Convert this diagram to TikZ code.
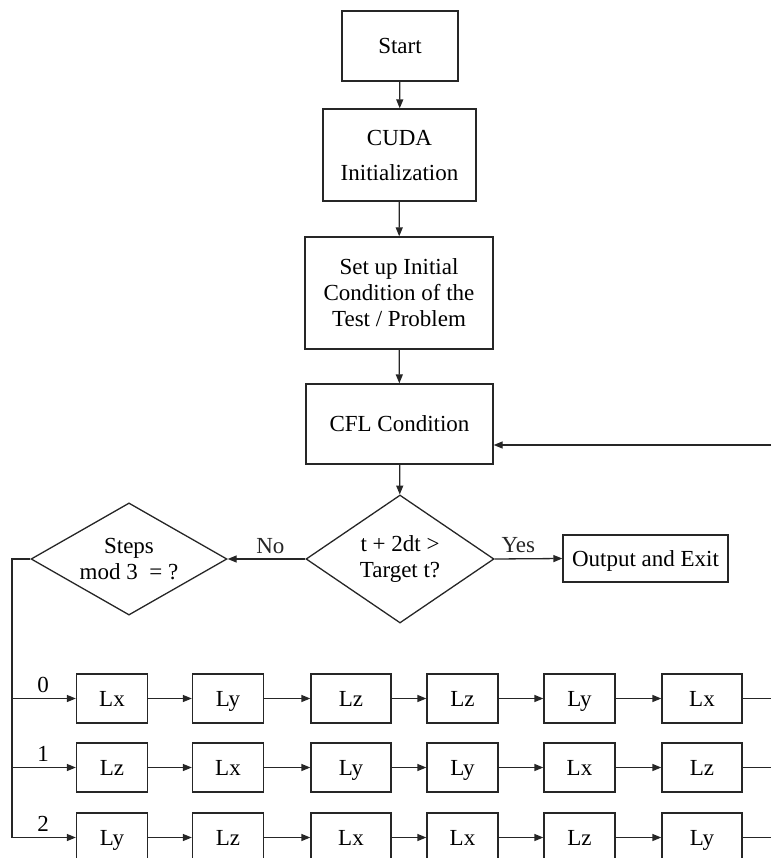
\documentclass[tikz,border=0pt]{standalone}
\usepackage{fontspec}
\setmainfont{Liberation Serif}
\usetikzlibrary{shapes.geometric,arrows.meta}
\begin{document}
\begin{tikzpicture}[x={(1pt,0)},y={(0,-1pt)},
  every node/.style={font=\fontsize{23}{26}\selectfont},
  box/.style={draw=black!85,line width=1.3pt,inner sep=0pt,align=center},
  sbox/.style={box,text height=18pt,text depth=3pt},
  dia/.style={draw=black!85,line width=1.3pt,shape=diamond,inner sep=-7pt,align=center},
  conn/.style={line width=1.3pt,black!85,-{Triangle[length=9pt,width=7pt]}},
  plain/.style={line width=1.3pt,black!85},
  lbl/.style={inner sep=0pt}]
\useasboundingbox (0,0) rectangle (771,858);
\clip (0,0) rectangle (771,858);
% main column
\node[sbox,minimum width=116pt,minimum height=70pt] (start) at (400,46) {Start};
\node[box,minimum width=153pt,minimum height=92pt] (cuda) at (399.5,155) {CUDA\\[9pt]Initialization};
\node[box,minimum width=188pt,minimum height=112pt] (setup) at (399,293) {Set up Initial\\Condition of the\\Test / Problem};
\node[sbox,minimum width=187pt,minimum height=80pt] (cfl) at (399.5,424) {CFL Condition};
\node[dia,minimum width=188pt,minimum height=128pt] (dec) at (400,559) {t + 2dt >\\Target t?};
\node[sbox,minimum width=165pt,minimum height=47pt] (out) at (645.5,558.5) {Output and Exit};
\node[dia,minimum width=196pt,minimum height=108pt] (steps) at (129,559) {Steps\\mod 3~ = ?};
\draw[conn] (start) -- (cuda);
\draw[conn] (cuda) -- (setup);
\draw[conn] (setup) -- (cfl);
\draw[conn] (cfl) -- (dec);
\draw[conn] (dec.east) -- node[lbl,above=5pt,pos=0.35] (yes) {Yes} (out.west);
\draw[conn] (dec.west) -- node[lbl,above=5pt,pos=0.45] (no) {No} (steps.east);
\coordinate (loopin) at (771,445);
\draw[conn] (loopin) -- (loopin -| cfl.east);
% rows
\foreach \r/\y/\a/\b/\c/\d/\e/\f in {0/698.5/Lx/Ly/Lz/Lz/Ly/Lx, 1/767.5/Lz/Lx/Ly/Ly/Lx/Lz, 2/837.5/Ly/Lz/Lx/Lx/Lz/Ly}{
  \node[sbox,minimum width=71pt,minimum height=49pt] (r\r c1) at (112,\y) {\a};
  \node[sbox,minimum width=71pt,minimum height=49pt] (r\r c2) at (228,\y) {\b};
  \node[sbox,minimum width=80pt,minimum height=49pt] (r\r c3) at (351,\y) {\c};
  \node[sbox,minimum width=71pt,minimum height=49pt] (r\r c4) at (462.5,\y) {\d};
  \node[sbox,minimum width=71pt,minimum height=49pt] (r\r c5) at (579.5,\y) {\e};
  \node[sbox,minimum width=80pt,minimum height=49pt] (r\r c6) at (702,\y) {\f};
  \draw[conn] (r\r c1) -- (r\r c2);
  \draw[conn] (r\r c2) -- (r\r c3);
  \draw[conn] (r\r c3) -- (r\r c4);
  \draw[conn] (r\r c4) -- (r\r c5);
  \draw[conn] (r\r c5) -- (r\r c6);
  \coordinate (r\r end) at (771,\y);
  \draw[plain] (r\r c6.east) -- (r\r end);
}
\coordinate (bus) at (12,559);
\draw[conn] (steps.west) -- (bus) |- (r2c1.west);
\draw[conn] (bus |- r0c1.west) -- (r0c1.west);
\draw[conn] (bus |- r1c1.west) -- (r1c1.west);
\node[lbl] (l0) at (43,685) {0};
\node[lbl] (l1) at (43,754) {1};
\node[lbl] (l2) at (43,824) {2};
\end{tikzpicture}
\end{document}
